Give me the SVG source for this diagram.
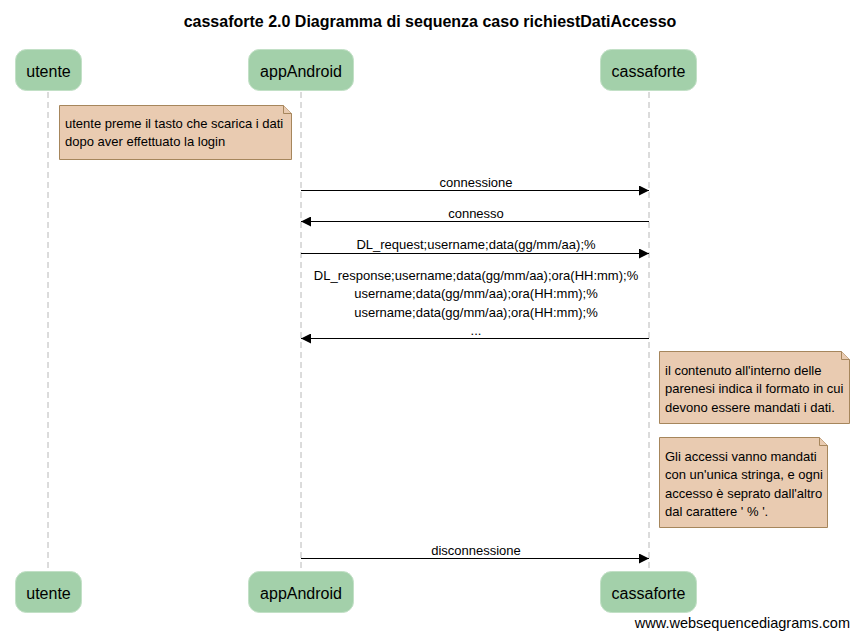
<svg xmlns="http://www.w3.org/2000/svg" width="859" height="638" viewBox="0 0 859 638">
<defs>
<style>
text{font-family:"Liberation Sans",Arial,sans-serif;fill:#000}
.title{font-size:16px;font-weight:bold}
.pbox{fill:#a3d0aa;stroke:#c2e0c6;stroke-width:1}
.pname{font-size:16px;text-anchor:middle}
.life{stroke:#b8b8b8;stroke-width:1;stroke-dasharray:6,4}
.note{fill:#e9cbb1;stroke:#a6865c;stroke-width:1}
.ntext{font-size:13px}
.msg{stroke:#000;stroke-width:1;fill:none}
.mlabel{font-size:13px;text-anchor:middle}
</style>
<marker id="ah" viewBox="0 0 10 10" refX="10" refY="5" markerWidth="10" markerHeight="10" markerUnits="userSpaceOnUse" orient="auto">
<path d="M0,0 L10,5 L0,10 Z" fill="#000"/>
</marker>
</defs>
<rect width="859" height="638" fill="#fff"/>
<text class="title" x="430" y="27" text-anchor="middle">cassaforte 2.0 Diagramma di sequenza caso richiestDatiAccesso</text>

<g id="lifelines">
<line class="life" x1="48" y1="92" x2="48" y2="570"/>
<line class="life" x1="301" y1="92" x2="301" y2="570"/>
<line class="life" x1="649" y1="92" x2="649" y2="570"/>
</g>

<g id="p-utente">
<rect class="pbox" x="15.5" y="49.5" width="66" height="41" rx="11"/>
<text class="pname" x="48.5" y="77">utente</text>
<rect class="pbox" x="15.5" y="571.5" width="66" height="41" rx="11"/>
<text class="pname" x="48.5" y="599">utente</text>
</g>
<g id="p-appAndroid">
<rect class="pbox" x="248.5" y="49.5" width="105" height="41" rx="11"/>
<text class="pname" x="301" y="77">appAndroid</text>
<rect class="pbox" x="248.5" y="571.5" width="105" height="41" rx="11"/>
<text class="pname" x="301" y="599">appAndroid</text>
</g>
<g id="p-cassaforte">
<rect class="pbox" x="600.5" y="49.5" width="96" height="41" rx="11"/>
<text class="pname" x="648.5" y="77">cassaforte</text>
<rect class="pbox" x="600.5" y="571.5" width="96" height="41" rx="11"/>
<text class="pname" x="648.5" y="599">cassaforte</text>
</g>

<g id="note1">
<path class="note" d="M59.5,105.5 H283.5 L291.5,113.5 V159.5 H59.5 Z"/>
<path class="note" d="M283.5,105.5 V113.5 H291.5" fill="none"/>
<text class="ntext" x="65" y="128">utente preme il tasto che scarica i dati</text>
<text class="ntext" x="65" y="146">dopo aver effettuato la login</text>
</g>
<g id="note2">
<path class="note" d="M659.5,351.5 H841.5 L849.5,359.5 V423.5 H659.5 Z"/>
<path class="note" d="M841.5,351.5 V359.5 H849.5" fill="none"/>
<text class="ntext" x="665" y="375">il contenuto all'interno delle</text>
<text class="ntext" x="665" y="393">parenesi indica il formato in cui</text>
<text class="ntext" x="665" y="412">devono essere mandati i dati.</text>
</g>
<g id="note3">
<path class="note" d="M659.5,437.5 H819.5 L827.5,445.5 V527.5 H659.5 Z"/>
<path class="note" d="M819.5,437.5 V445.5 H827.5" fill="none"/>
<text class="ntext" x="665" y="461">Gli accessi vanno mandati</text>
<text class="ntext" x="665" y="479">con un'unica stringa, e ogni</text>
<text class="ntext" x="665" y="498">accesso è seprato dall'altro</text>
<text class="ntext" x="665" y="516">dal carattere ' % '.</text>
</g>

<g id="connectors">
<line class="msg" x1="301" y1="190.5" x2="649" y2="190.5" marker-end="url(#ah)"/>
<text class="mlabel" x="476" y="187">connessione</text>
<line class="msg" x1="649" y1="221.5" x2="301" y2="221.5" marker-end="url(#ah)"/>
<text class="mlabel" x="476" y="218">connesso</text>
<line class="msg" x1="301" y1="253.5" x2="649" y2="253.5" marker-end="url(#ah)"/>
<text class="mlabel" x="476" y="249">DL_request;username;data(gg/mm/aa);%</text>
<line class="msg" x1="649" y1="338.5" x2="301" y2="338.5" marker-end="url(#ah)"/>
<text class="mlabel" x="476" y="280">DL_response;username;data(gg/mm/aa);ora(HH:mm);%</text>
<text class="mlabel" x="476" y="298">username;data(gg/mm/aa);ora(HH:mm);%</text>
<text class="mlabel" x="476" y="317">username;data(gg/mm/aa);ora(HH:mm);%</text>
<text class="mlabel" x="476" y="335">...</text>
<line class="msg" x1="301" y1="558.5" x2="649" y2="558.5" marker-end="url(#ah)"/>
<text class="mlabel" x="476" y="555">disconnessione</text>
</g>

<text x="850" y="628" font-size="14.5" text-anchor="end">www.websequencediagrams.com</text>
</svg>
